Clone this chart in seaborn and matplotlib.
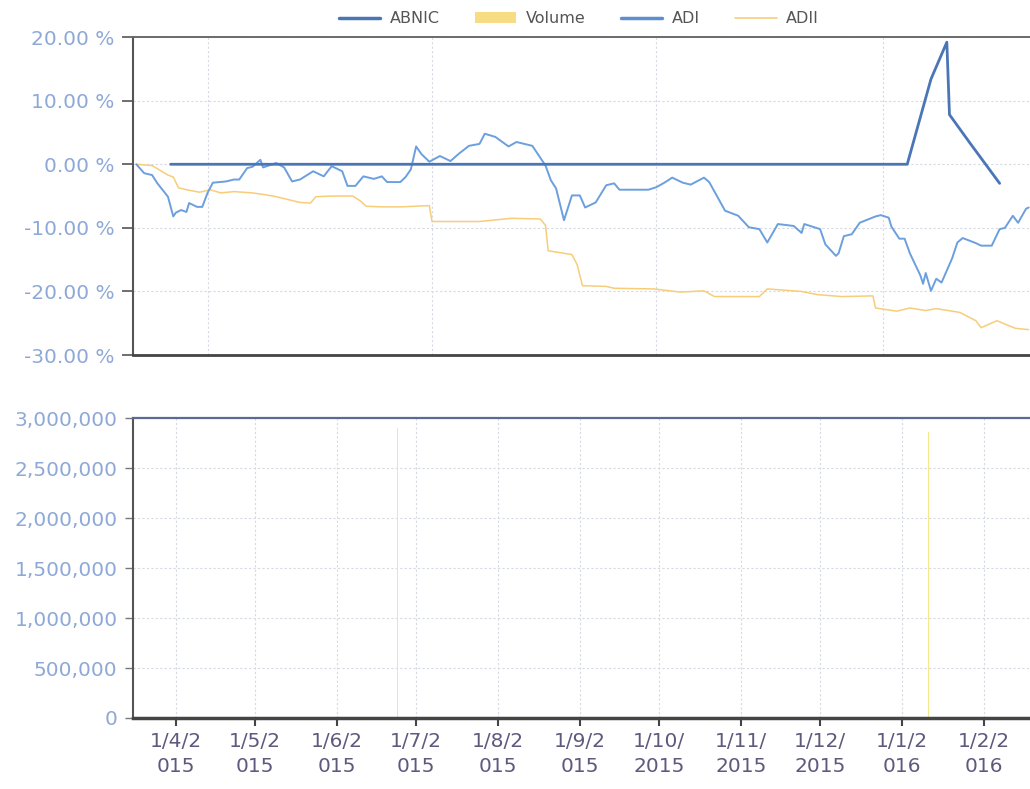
import matplotlib
matplotlib.use("Agg")
import matplotlib.pyplot as plt
import matplotlib.ticker as mticker
import seaborn as sns
import pandas as pd
from matplotlib.lines import Line2D
from matplotlib.patches import Patch

# ---------------- data ----------------
adi_dates = [
    "2015-03-17", "2015-03-20", "2015-03-23", "2015-03-25", "2015-03-29", "2015-03-31",
    "2015-04-01", "2015-04-03", "2015-04-05", "2015-04-06", "2015-04-09", "2015-04-11",
    "2015-04-13", "2015-04-15", "2015-04-20", "2015-04-23", "2015-04-25", "2015-04-28",
    "2015-04-30", "2015-05-03", "2015-05-04", "2015-05-09", "2015-05-12", "2015-05-15",
    "2015-05-18", "2015-05-23", "2015-05-27", "2015-05-30", "2015-06-03", "2015-06-05",
    "2015-06-08", "2015-06-11", "2015-06-15", "2015-06-18", "2015-06-20", "2015-06-25",
    "2015-06-27", "2015-06-29", "2015-07-01", "2015-07-03", "2015-07-06", "2015-07-10",
    "2015-07-14", "2015-07-17", "2015-07-21", "2015-07-25", "2015-07-27", "2015-07-31",
    "2015-08-05", "2015-08-08", "2015-08-14", "2015-08-19", "2015-08-21", "2015-08-23",
    "2015-08-26", "2015-08-29", "2015-09-01", "2015-09-03", "2015-09-07", "2015-09-11",
    "2015-09-14", "2015-09-16", "2015-09-20", "2015-09-27", "2015-09-30", "2015-10-03",
    "2015-10-06", "2015-10-10", "2015-10-13", "2015-10-18", "2015-10-20", "2015-10-26",
    "2015-10-31", "2015-11-04", "2015-11-08", "2015-11-11", "2015-11-15", "2015-11-21",
    "2015-11-24", "2015-11-25", "2015-12-01", "2015-12-03", "2015-12-07", "2015-12-08",
    "2015-12-10", "2015-12-13", "2015-12-16", "2015-12-22", "2015-12-24", "2015-12-27",
    "2015-12-28", "2015-12-31", "2016-01-02", "2016-01-04", "2016-01-08", "2016-01-09",
    "2016-01-10", "2016-01-12", "2016-01-14", "2016-01-16", "2016-01-20", "2016-01-22",
    "2016-01-24", "2016-01-29", "2016-01-31", "2016-02-04", "2016-02-07", "2016-02-09",
    "2016-02-12", "2016-02-14", "2016-02-17", "2016-02-18",
]
adi_values = [
    0.0, -1.4, -1.7, -3.0, -5.1, -8.2,
    -7.6, -7.2, -7.5, -6.1, -6.7, -6.7,
    -4.5, -2.9, -2.7, -2.4, -2.4, -0.6,
    -0.4, 0.7, -0.5, 0.2, -0.5, -2.7,
    -2.4, -1.1, -1.9, -0.3, -1.1, -3.4,
    -3.4, -1.9, -2.3, -1.9, -2.8, -2.8,
    -2.0, -0.8, 2.8, 1.6, 0.4, 1.3,
    0.5, 1.6, 2.9, 3.2, 4.8, 4.3,
    2.8, 3.5, 2.9, -0.2, -2.5, -3.8,
    -8.8, -4.9, -4.9, -6.8, -6.0, -3.3,
    -3.0, -4.0, -4.0, -4.0, -3.6, -2.9,
    -2.1, -2.9, -3.2, -2.1, -2.8, -7.3,
    -8.1, -9.9, -10.2, -12.3, -9.4, -9.7,
    -10.8, -9.4, -10.2, -12.6, -14.4, -14.0,
    -11.3, -11.0, -9.2, -8.2, -8.0, -8.4,
    -9.8, -11.7, -11.7, -14.0, -17.5, -18.8,
    -17.1, -19.9, -18.0, -18.6, -14.8, -12.3,
    -11.6, -12.4, -12.8, -12.8, -10.2, -10.0,
    -8.1, -9.2, -7.0, -6.8,
]

adii_dates = [
    "2015-03-17", "2015-03-23", "2015-03-29", "2015-03-31", "2015-04-02", "2015-04-05",
    "2015-04-10", "2015-04-14", "2015-04-18", "2015-04-23", "2015-04-30", "2015-05-05",
    "2015-05-09", "2015-05-13", "2015-05-18", "2015-05-22", "2015-05-24", "2015-05-30",
    "2015-06-07", "2015-06-10", "2015-06-12", "2015-06-18", "2015-06-25", "2015-07-06",
    "2015-07-07", "2015-07-25", "2015-08-06", "2015-08-17", "2015-08-19", "2015-08-20",
    "2015-08-29", "2015-08-31", "2015-09-02", "2015-09-11", "2015-09-14", "2015-09-29",
    "2015-10-09", "2015-10-18", "2015-10-22", "2015-11-08", "2015-11-11", "2015-11-24",
    "2015-11-30", "2015-12-09", "2015-12-21", "2015-12-22", "2015-12-30", "2016-01-04",
    "2016-01-10", "2016-01-14", "2016-01-23", "2016-01-29", "2016-01-31", "2016-02-06",
    "2016-02-10", "2016-02-13", "2016-02-18",
]
adii_values = [
    0.0, -0.2, -1.7, -2.0, -3.7, -4.0,
    -4.4, -4.0, -4.5, -4.3, -4.5, -4.8,
    -5.1, -5.5, -6.0, -6.1, -5.1, -5.0,
    -5.0, -5.8, -6.6, -6.7, -6.7, -6.5,
    -9.0, -9.0, -8.5, -8.6, -9.6, -13.6,
    -14.2, -15.8, -19.1, -19.2, -19.5, -19.6,
    -20.1, -19.9, -20.8, -20.8, -19.6, -20.0,
    -20.5, -20.8, -20.7, -22.6, -23.1, -22.6,
    -23.0, -22.7, -23.3, -24.6, -25.7, -24.6,
    -25.3, -25.8, -26.0,
]

abnic_dates = ["2015-03-30", "2016-01-03", "2016-01-12", "2016-01-18", "2016-01-19",
               "2016-01-27", "2016-02-07"]
abnic_values = [0.0, 0.0, 13.4, 19.2, 7.8, 3.2, -3.0]

volume_dates = ["2015-03-16", "2015-06-24", "2016-01-11"]
volume_values = [530000, 2900000, 2860000]

month_ticks = ["2015-04-01", "2015-05-01", "2015-06-01", "2015-07-01", "2015-08-01",
               "2015-09-01", "2015-10-01", "2015-11-01", "2015-12-01", "2016-01-01",
               "2016-02-01"]
top_grid_dates = ["2015-04-13", "2015-07-07", "2015-09-30", "2015-12-25"]

pct_ticks = [-30, -20, -10, 0, 10, 20]
vol_ticks = [0, 500000, 1000000, 1500000, 2000000, 2500000, 3000000]

legend_labels = ["ABNIC", "Volume", "ADI", "ADII"]

# ---------------- style ----------------
sns.set_style("white")
plt.rcParams['font.family'] = ['DejaVu Sans']

c_abnic = "#4a76b5"
c_adi = "#6b9fde"
c_adii = "#f7cd7a"
c_vol = "#f4e88a"
c_ylab = "#8ea9d8"
c_xlab = "#5d5a7e"
c_grid = "#d6dae2"

fig = plt.figure(figsize=(10.30, 7.89), dpi=100)
ax1 = fig.add_axes([0.129, 0.550, 0.871, 0.403])
ax2 = fig.add_axes([0.129, 0.090, 0.871, 0.380])

xmin = pd.Timestamp("2015-03-15 17:00")
xmax = pd.Timestamp("2016-02-18 12:00")

# ---------------- top panel ----------------
sns.lineplot(x=pd.to_datetime(adii_dates), y=adii_values, ax=ax1, color=c_adii,
             linewidth=1.1, estimator=None, sort=False)
sns.lineplot(x=pd.to_datetime(adi_dates), y=adi_values, ax=ax1, color=c_adi,
             linewidth=1.4, estimator=None, sort=False)
sns.lineplot(x=pd.to_datetime(abnic_dates), y=abnic_values, ax=ax1, color=c_abnic,
             linewidth=2.0, estimator=None, sort=False)

ax1.set_xlim(xmin, xmax)
ax1.set_ylim(-30, 20)
ax1.set_yticks(pct_ticks)
ax1.yaxis.set_major_formatter(mticker.FuncFormatter(lambda v, p: f"{v:.2f} %"))
ax1.set_xticks(pd.to_datetime(top_grid_dates))
ax1.set_xticklabels([])
ax1.tick_params(axis='x', length=0)
ax1.tick_params(axis='y', length=8, width=1.2, color="#555555", labelcolor=c_ylab,
                labelsize=14.5, pad=5, left=True)
ax1.grid(True, color=c_grid, linestyle=(0, (2, 2)), linewidth=0.8)
ax1.set_xlabel("")
ax1.set_ylabel("")
ax1.spines['right'].set_visible(False)
ax1.spines['top'].set_color("#6a6a6a")
ax1.spines['top'].set_linewidth(1.4)
ax1.spines['left'].set_color("#555555")
ax1.spines['left'].set_linewidth(1.5)
ax1.spines['bottom'].set_color("#444444")
ax1.spines['bottom'].set_linewidth(2.0)

# ---------------- bottom panel ----------------
ax2.bar(pd.to_datetime(volume_dates), volume_values, width=0.6, color=c_vol, linewidth=0)
ax2.set_xlim(xmin, xmax)
ax2.set_ylim(0, 3000000)
ax2.set_yticks(vol_ticks)
ax2.yaxis.set_major_formatter(mticker.FuncFormatter(lambda v, p: f"{int(v):,}"))
mt = pd.to_datetime(month_ticks)
ax2.set_xticks(mt)
labels = []
for d in mt:
    s = f"{d.day}/{d.month}/{d.year}"
    labels.append(s[:5] + "\n" + s[5:])
ax2.set_xticklabels(labels)
for t in ax2.get_xticklabels():
    t.set_linespacing(1.4)
ax2.tick_params(axis='x', length=6, width=1.5, color="#444444", labelcolor=c_xlab,
                labelsize=14.5, pad=4, bottom=True)
ax2.tick_params(axis='y', length=6, width=1.0, color="#777777", labelcolor=c_ylab,
                labelsize=14.5, pad=5, left=True)
ax2.grid(True, color=c_grid, linestyle=(0, (2, 2)), linewidth=0.8)
ax2.spines['right'].set_visible(False)
ax2.spines['top'].set_color("#5b6b94")
ax2.spines['top'].set_linewidth(1.6)
ax2.spines['left'].set_color("#555555")
ax2.spines['left'].set_linewidth(1.5)
ax2.spines['bottom'].set_color("#444444")
ax2.spines['bottom'].set_linewidth(2.5)

# ---------------- legend ----------------
handles = [
    Line2D([0], [0], color=c_abnic, linewidth=2.5),
    Patch(facecolor="#f8dc84", edgecolor="none"),
    Line2D([0], [0], color="#5b8fd0", linewidth=2.5),
    Line2D([0], [0], color=c_adii, linewidth=1.2),
]
fig.legend(handles, legend_labels, loc='center', bbox_to_anchor=(0.562, 0.976), ncol=4,
           frameon=False, fontsize=11.5, labelcolor="#555555", handlelength=2.6,
           columnspacing=2.2, handletextpad=0.6)

fig.savefig("out.png", dpi=100)
